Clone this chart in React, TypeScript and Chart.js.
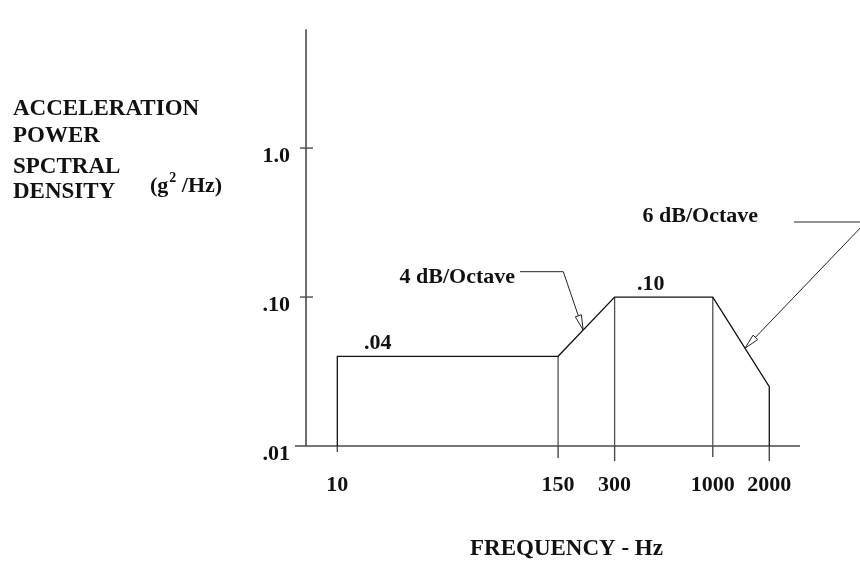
import React, { useEffect, useRef } from 'react';
import { Chart, registerables } from 'chart.js';

Chart.register(...registerables);

// ---- data ----
const breakFrequencies = [10, 150, 300, 1000, 2000];
const psdLevels = [0.04, 0.04, 0.1, 0.1, 0.025];
const floorLevel = 0.01;
const dividerFrequencies = [150, 300, 1000];
const xTickValues = [10, 150, 300, 1000, 2000];
const xTickLabels = ['10', '150', '300', '1000', '2000'];
const yTickValues = [0.01, 0.1, 1];
const yTickLabels = ['.01', '.10', '1.0'];
const levelLabels = ['.04', '.10'];
const levelLabelFreqs = [16.4, 468];
const levelLabelValues = [0.04, 0.1];
const slopeLabels = ['4 dB/Octave', '6 dB/Octave'];
const slopeArrowFreqs = [204, 1485];
const yTitleLines = ['ACCELERATION', 'POWER', 'SPCTRAL', 'DENSITY'];
const xTitle = 'FREQUENCY - Hz';

const FONT = '"Liberation Serif", "Times New Roman", serif';

function levelAt(f: number): number {
  for (let i = 0; i < breakFrequencies.length - 1; i++) {
    const f0 = breakFrequencies[i];
    const f1 = breakFrequencies[i + 1];
    if (f >= f0 && f <= f1) {
      const t = Math.log(f / f0) / Math.log(f1 / f0);
      const l0 = Math.log10(psdLevels[i]);
      const l1 = Math.log10(psdLevels[i + 1]);
      return Math.pow(10, l0 + t * (l1 - l0));
    }
  }
  return floorLevel;
}

export default function App() {
  const canvasRef = useRef<HTMLCanvasElement | null>(null);

  useEffect(() => {
    const canvas = canvasRef.current;
    if (!canvas) return;

    const profile = [
      { x: breakFrequencies[0], y: floorLevel },
      ...breakFrequencies.map((f, i) => ({ x: f, y: psdLevels[i] })),
      { x: breakFrequencies[breakFrequencies.length - 1], y: floorLevel },
    ];

    const dividerSets = dividerFrequencies.map((f) => ({
      data: [
        { x: f, y: floorLevel },
        { x: f, y: psdLevels[breakFrequencies.indexOf(f)] },
      ],
      showLine: true,
      borderColor: '#505050',
      borderWidth: 1.3,
      pointRadius: 0,
      fill: false,
      clip: false as any,
    }));

    const decorPlugin = {
      id: 'decor',
      beforeDatasetsDraw(chart: any) {
        const { ctx, chartArea, scales } = chart;
        const xs = scales.x;
        const ys = scales.y;
        ctx.save();
        ctx.strokeStyle = '#4a4a4a';
        ctx.lineWidth = 1.6;
        // y axis
        ctx.beginPath();
        ctx.moveTo(chartArea.left, chartArea.top);
        ctx.lineTo(chartArea.left, chartArea.bottom);
        ctx.stroke();
        // x axis
        ctx.beginPath();
        ctx.moveTo(chartArea.left - 11, chartArea.bottom);
        ctx.lineTo(chartArea.right, chartArea.bottom);
        ctx.stroke();
        // y ticks
        ctx.lineWidth = 1.4;
        yTickValues.slice(1).forEach((v) => {
          const py = ys.getPixelForValue(v);
          ctx.beginPath();
          ctx.moveTo(chartArea.left - 6, py);
          ctx.lineTo(chartArea.left + 7, py);
          ctx.stroke();
        });
        // x ticks
        const tickLens = [6, 12, 15, 11, 15];
        xTickValues.forEach((v, i) => {
          const px = xs.getPixelForValue(v);
          ctx.beginPath();
          ctx.moveTo(px, chartArea.bottom);
          ctx.lineTo(px, chartArea.bottom + tickLens[i]);
          ctx.stroke();
        });
        ctx.restore();
      },
      afterDatasetsDraw(chart: any) {
        const { ctx, scales } = chart;
        const xs = scales.x;
        const ys = scales.y;
        ctx.save();
        ctx.fillStyle = '#111';
        ctx.textBaseline = 'alphabetic';

        // y title block
        ctx.font = `bold 23px ${FONT}`;
        ctx.textAlign = 'left';
        const baselines = [115, 141.7, 173, 198];
        yTitleLines.forEach((t, i) => ctx.fillText(t, 13, baselines[i]));
        // (g² /Hz)
        let x = 150;
        ctx.font = `bold 22px ${FONT}`;
        ctx.fillText('(g', x, 192);
        x += ctx.measureText('(g').width;
        ctx.font = `bold 14px ${FONT}`;
        ctx.fillText('2', x + 1, 182);
        x += ctx.measureText('2').width + 1;
        ctx.font = `bold 22px ${FONT}`;
        ctx.fillText(' /Hz)', x, 192);

        // x title
        ctx.font = `bold 23px ${FONT}`;
        ctx.fillText(xTitle, 470, 555);

        // level labels
        ctx.font = `bold 22px ${FONT}`;
        ctx.textAlign = 'center';
        levelLabels.forEach((t, i) => {
          const px = xs.getPixelForValue(levelLabelFreqs[i]);
          const py = ys.getPixelForValue(levelLabelValues[i]);
          ctx.fillText(t, px, py - 7.5);
        });

        // slope labels with leaders
        ctx.textAlign = 'right';
        ctx.fillText(slopeLabels[0], 515, 283);
        ctx.fillText(slopeLabels[1], 758, 221.7);

        const leaders = [
          [
            [520, 271.7],
            [563.3, 271.7],
          ],
          [
            [794, 222],
            [866, 222],
          ],
        ];
        ctx.strokeStyle = '#222';
        ctx.lineWidth = 1;
        leaders.forEach((pts, i) => {
          const f = slopeArrowFreqs[i];
          const tx = xs.getPixelForValue(f);
          const ty = ys.getPixelForValue(levelAt(f));
          ctx.beginPath();
          ctx.moveTo(pts[0][0], pts[0][1]);
          ctx.lineTo(pts[1][0], pts[1][1]);
          ctx.lineTo(tx, ty);
          ctx.stroke();
          // open arrowhead
          const dx = tx - pts[1][0];
          const dy = ty - pts[1][1];
          const len = Math.hypot(dx, dy);
          const ux = dx / len;
          const uy = dy / len;
          const L = 15;
          const W = 3.2;
          const bx = tx - ux * L;
          const by = ty - uy * L;
          ctx.beginPath();
          ctx.moveTo(tx, ty);
          ctx.lineTo(bx - uy * W, by + ux * W);
          ctx.lineTo(bx + uy * W, by - ux * W);
          ctx.closePath();
          ctx.fillStyle = '#fff';
          ctx.fill();
          ctx.stroke();
        });
        ctx.restore();
      },
    };

    const chart = new Chart(canvas, {
      type: 'scatter',
      data: {
        datasets: [
          {
            data: profile,
            showLine: true,
            borderColor: '#111',
            borderWidth: 1.3,
            pointRadius: 0,
            fill: false,
            tension: 0,
            clip: false as any,
          },
          ...dividerSets,
        ],
      },
      options: {
        animation: false,
        responsive: false,
        layout: { padding: { top: 10, right: 60, bottom: 0, left: 0 } },
        plugins: {
          legend: { display: false },
          tooltip: { enabled: false },
        },
        scales: {
          x: {
            type: 'logarithmic',
            position: 'bottom',
            min: 6.81,
            max: 2915,
            afterBuildTicks: (s: any) => {
              s.ticks = xTickValues.map((v) => ({ value: v }));
            },
            afterFit: (s: any) => {
              s.height = 116;
            },
            ticks: {
              autoSkip: false,
              maxRotation: 0,
              minRotation: 0,
              padding: 26,
              color: '#111',
              font: { family: FONT, size: 22, weight: 'bold' },
              callback: (v: any) => {
                const i = xTickValues.indexOf(Number(v));
                return i >= 0 ? xTickLabels[i] : '';
              },
            },
            grid: { display: false, drawTicks: false },
            border: { display: false },
          },
          y: {
            type: 'logarithmic',
            position: 'left',
            min: 0.01,
            max: 6.28,
            afterBuildTicks: (s: any) => {
              s.ticks = yTickValues.map((v) => ({ value: v }));
            },
            afterFit: (s: any) => {
              s.width = 306;
            },
            ticks: {
              autoSkip: false,
              padding: 16,
              labelOffset: 8,
              color: '#111',
              font: { family: FONT, size: 22, weight: 'bold' },
              callback: (v: any) => {
                const i = yTickValues.findIndex((t) => Math.abs(t - Number(v)) < 1e-9);
                return i >= 0 ? yTickLabels[i] : '';
              },
            },
            grid: { display: false, drawTicks: false },
            border: { display: false },
          },
        },
      } as any,
      plugins: [decorPlugin],
    });

    return () => chart.destroy();
  }, []);

  return (
    <div
      style={{
        position: 'fixed',
        left: 0,
        top: 0,
        width: 860,
        height: 562,
        background: '#fff',
      }}
    >
      <canvas ref={canvasRef} width={860} height={562} style={{ display: 'block' }} />
    </div>
  );
}
